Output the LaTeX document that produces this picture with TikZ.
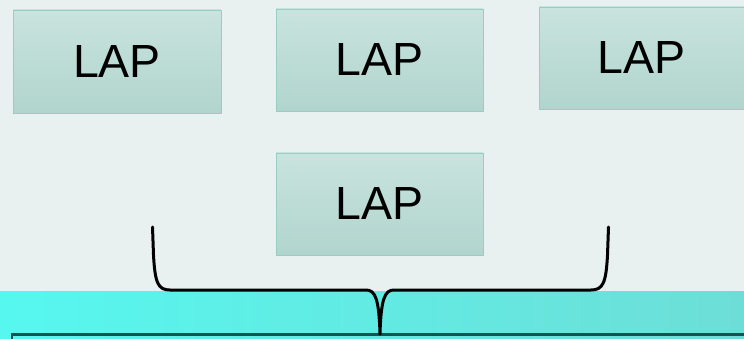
\documentclass[tikz,border=0pt]{standalone}
\usepackage{fontspec}
\setmainfont{Liberation Sans}
\definecolor{bgpale}{HTML}{E8F1EF}
\definecolor{boxtop}{HTML}{C9E3DE}
\definecolor{boxbot}{HTML}{B1D5CE}
\definecolor{boxedge}{HTML}{97CEC0}
\definecolor{bandleft}{HTML}{56F7EF}
\definecolor{bandright}{HTML}{6DDED7}
\definecolor{darkteal}{HTML}{18514F}
\tikzset{
  lapbox/.style={draw=boxedge, line width=0.8pt, top color=boxtop, bottom color=boxbot,
    minimum width=208pt, minimum height=103pt, inner sep=0pt,
    font=\fontsize{46.5}{50}\selectfont, text=black},
  bracepath/.style={draw=black, line width=3pt, line cap=round, line join=round}
}
\begin{document}
\begin{tikzpicture}[x=1pt, y=-1pt]
  % canvas and lower band
  \useasboundingbox (0,0) rectangle (744,339);
  \fill[bgpale] (0,0) rectangle (744,339);
  \shade[left color=bandleft, right color=bandright] (0,291) rectangle (744,339);
  \draw[darkteal, line width=2.6pt] (12,360) -- (12,334.5) -- (760,334.5);

  % LAP boxes
  \node[lapbox] (lapa) at (117,61.5) {LAP};
  \node[lapbox, minimum width=207pt, minimum height=102pt] (lapb) at (379.5,60) {LAP};
  \node[lapbox, minimum width=205pt, minimum height=102pt] (lapc) at (641.5,58) {LAP};
  \node[lapbox, minimum width=207pt, minimum height=102pt] (lapd) at (379.5,204) {LAP};

  % curly brace gathering the boxes
  \coordinate (braceL) at (152.5,227);
  \coordinate (braceR) at (608.5,227);
  \coordinate (braceTip) at (380,334);
  \draw[bracepath] (braceL) -- (153.5,255)
    .. controls (155,283) and (158,290) .. (170,290) -- (366,290)
    .. controls (375,290) and (379,298) .. (braceTip)
    .. controls (381,298) and (385,290) .. (394,290) -- (591,290)
    .. controls (603,290) and (606,283) .. (607.5,255) -- (braceR);
\end{tikzpicture}
\end{document}
